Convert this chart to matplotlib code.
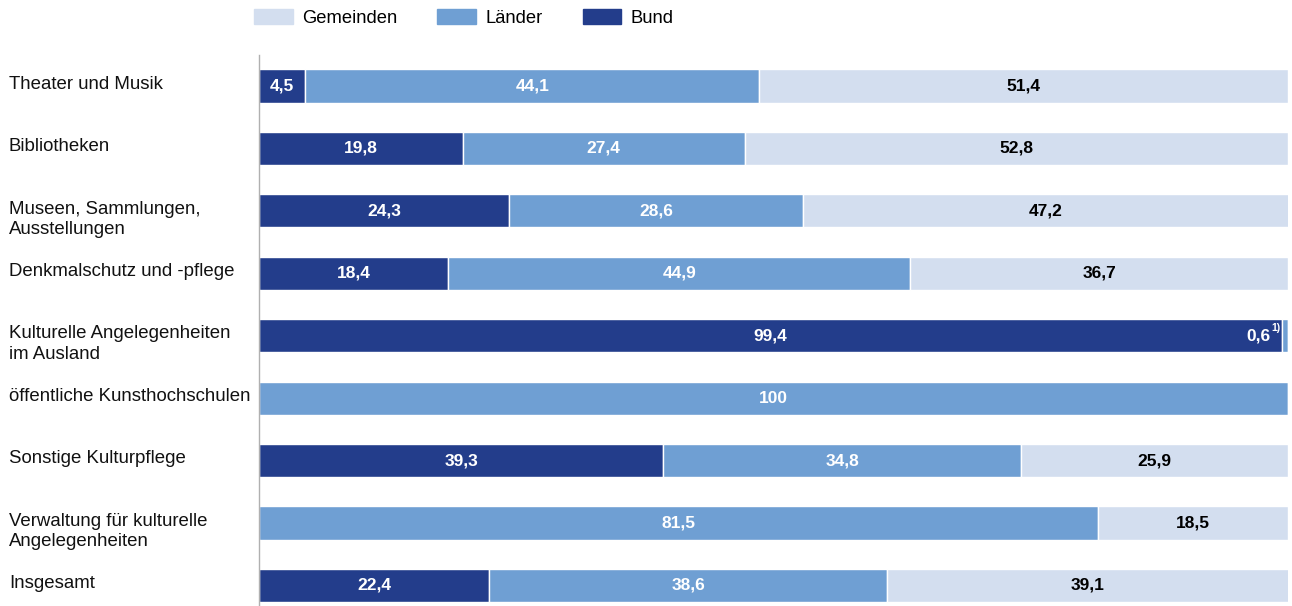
import matplotlib.pyplot as plt
from matplotlib.patches import Patch
from matplotlib.transforms import blended_transform_factory

plt.rcParams["font.family"] = ["Liberation Sans", "DejaVu Sans"]

# --- Data ---
categories = [
    "Theater und Musik",
    "Bibliotheken",
    "Museen, Sammlungen,\nAusstellungen",
    "Denkmalschutz und -pflege",
    "Kulturelle Angelegenheiten\nim Ausland",
    "öffentliche Kunsthochschulen",
    "Sonstige Kulturpflege",
    "Verwaltung für kulturelle\nAngelegenheiten",
    "Insgesamt",
]
bund = [4.5, 19.8, 24.3, 18.4, 99.4, 0, 39.3, 0, 22.4]
laender = [44.1, 27.4, 28.6, 44.9, 0.6, 100, 34.8, 81.5, 38.6]
gemeinden = [51.4, 52.8, 47.2, 36.7, 0, 0, 25.9, 18.5, 39.1]

C_BUND = "#233d8b"
C_LAND = "#6f9fd3"
C_GEM = "#d3deef"


def fmt(v):
    s = f"{v:.1f}".replace(".", ",")
    return s[:-2] if s.endswith(",0") else s


# --- Plot ---
fig = plt.figure(figsize=(12.92, 6.06), dpi=100)
ax = fig.add_axes([259 / 1292, 0.0, (1288 - 259) / 1292, 1 - 55 / 606])

y = list(range(len(categories)))
h = 0.53
left_l = [b for b in bund]
left_g = [b + l for b, l in zip(bund, laender)]

ax.barh(y, bund, height=h, color=C_BUND, edgecolor="white", linewidth=1)
ax.barh(y, laender, left=left_l, height=h, color=C_LAND, edgecolor="white",
        linewidth=1)
ax.barh(y, gemeinden, left=left_g, height=h, color=C_GEM, edgecolor="white",
        linewidth=1)

VS = 12.5
for i in y:
    if bund[i] > 0:
        ax.text(bund[i] / 2, i, fmt(bund[i]), ha="center", va="center",
                color="white", fontsize=VS, fontweight="bold")
    if laender[i] >= 5:
        ax.text(left_l[i] + laender[i] / 2, i, fmt(laender[i]), ha="center",
                va="center", color="white", fontsize=VS, fontweight="bold")
    elif laender[i] > 0:
        # tiny segment: label inside the Bund bar with footnote
        ax.text(98.3, i, fmt(laender[i]), ha="right", va="center",
                color="white", fontsize=VS, fontweight="bold")
        ax.text(98.35, i - 0.12, "1)", ha="left", va="center",
                color="white", fontsize=7.5, fontweight="bold")
    if gemeinden[i] > 0:
        ax.text(left_g[i] + gemeinden[i] / 2, i, fmt(gemeinden[i]),
                ha="center", va="center", color="black", fontsize=VS,
                fontweight="bold")

# category labels, left aligned at figure edge
trans = blended_transform_factory(fig.transFigure, ax.transData)
for i, cat in enumerate(categories):
    ax.text(9 / 1292, i - h / 2 + 0.1, cat, transform=trans, ha="left",
            va="top", fontsize=13.4, color="#111111", linespacing=1.27)

ax.set_xlim(0, 100)
ax.set_ylim(8.33, -0.497)
ax.set_xticks([])
ax.set_yticks([])
for s in ["top", "right", "bottom"]:
    ax.spines[s].set_visible(False)
ax.spines["left"].set_color("#b0b0b0")
ax.spines["left"].set_linewidth(1)

handles = [Patch(color=C_GEM, label="Gemeinden"),
           Patch(color=C_LAND, label="Länder"),
           Patch(color=C_BUND, label="Bund")]
fig.legend(handles=handles, loc="center", bbox_to_anchor=(0.359, 0.97),
           ncol=3, frameon=False, fontsize=13.2, handlelength=2.1,
           handleheight=0.9, columnspacing=2.2, handletextpad=0.5)

fig.savefig("out.png", dpi=100)
plt.close(fig)
